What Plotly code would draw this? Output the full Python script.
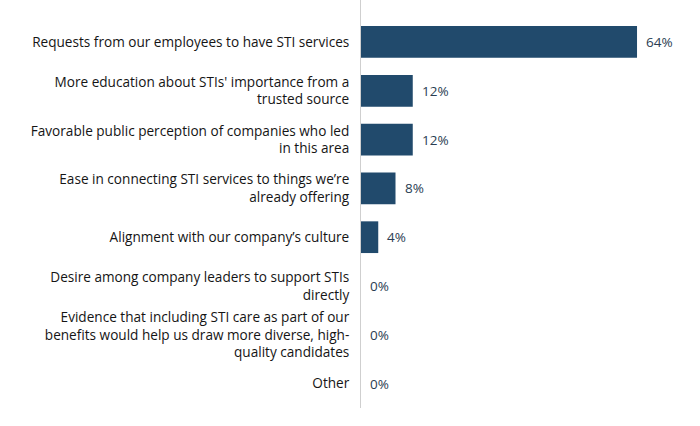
import plotly.graph_objects as go

categories = [
    "Requests from our employees to have STI services",
    "More education about STIs' importance from a<br>trusted source",
    "Favorable public perception of companies who led<br>in this area",
    "Ease in connecting STI services to things we’re<br>already offering",
    "Alignment with our company’s culture",
    "Desire among company leaders to support STIs<br>directly",
    "Evidence that including STI care as part of our<br>benefits would help us draw more diverse, high-<br>quality candidates",
    "Other",
]
values = [64, 12, 12, 8, 4, 0, 0, 0]
value_labels = [f"{v}%" for v in values]

BAR = "#214a6c"
FONT = "Open Sans"

fig = go.Figure()
fig.add_trace(go.Bar(
    x=values, y=categories, orientation="h",
    marker=dict(color=BAR, line=dict(width=0)),
    hoverinfo="skip",
))
for c, v, t in zip(categories, values, value_labels):
    fig.add_annotation(x=v, y=c, text=t, showarrow=False, xanchor="left",
                       xshift=7, font=dict(family=FONT, size=13.5, color="#2a3d52"))

fig.update_layout(
    width=700, height=426,
    margin=dict(l=361, r=0, t=0, b=18),
    paper_bgcolor="white", plot_bgcolor="white",
    bargap=0.35,
    showlegend=False,
    font=dict(family=FONT, size=13.6, color="#151515"),
    xaxis=dict(range=[0, 78.6], visible=False, fixedrange=True),
    yaxis=dict(
        categoryorder="array", categoryarray=categories,
        range=[7.5, -0.86],
        showline=True, linecolor="#cfcfcf", linewidth=1,
        showgrid=False, zeroline=False,
        ticks="outside", ticklen=8, tickcolor="rgba(0,0,0,0)",
        tickfont=dict(family=FONT, size=13.6, color="#151515"),
    ),
)

fig.write_html("out.html")
